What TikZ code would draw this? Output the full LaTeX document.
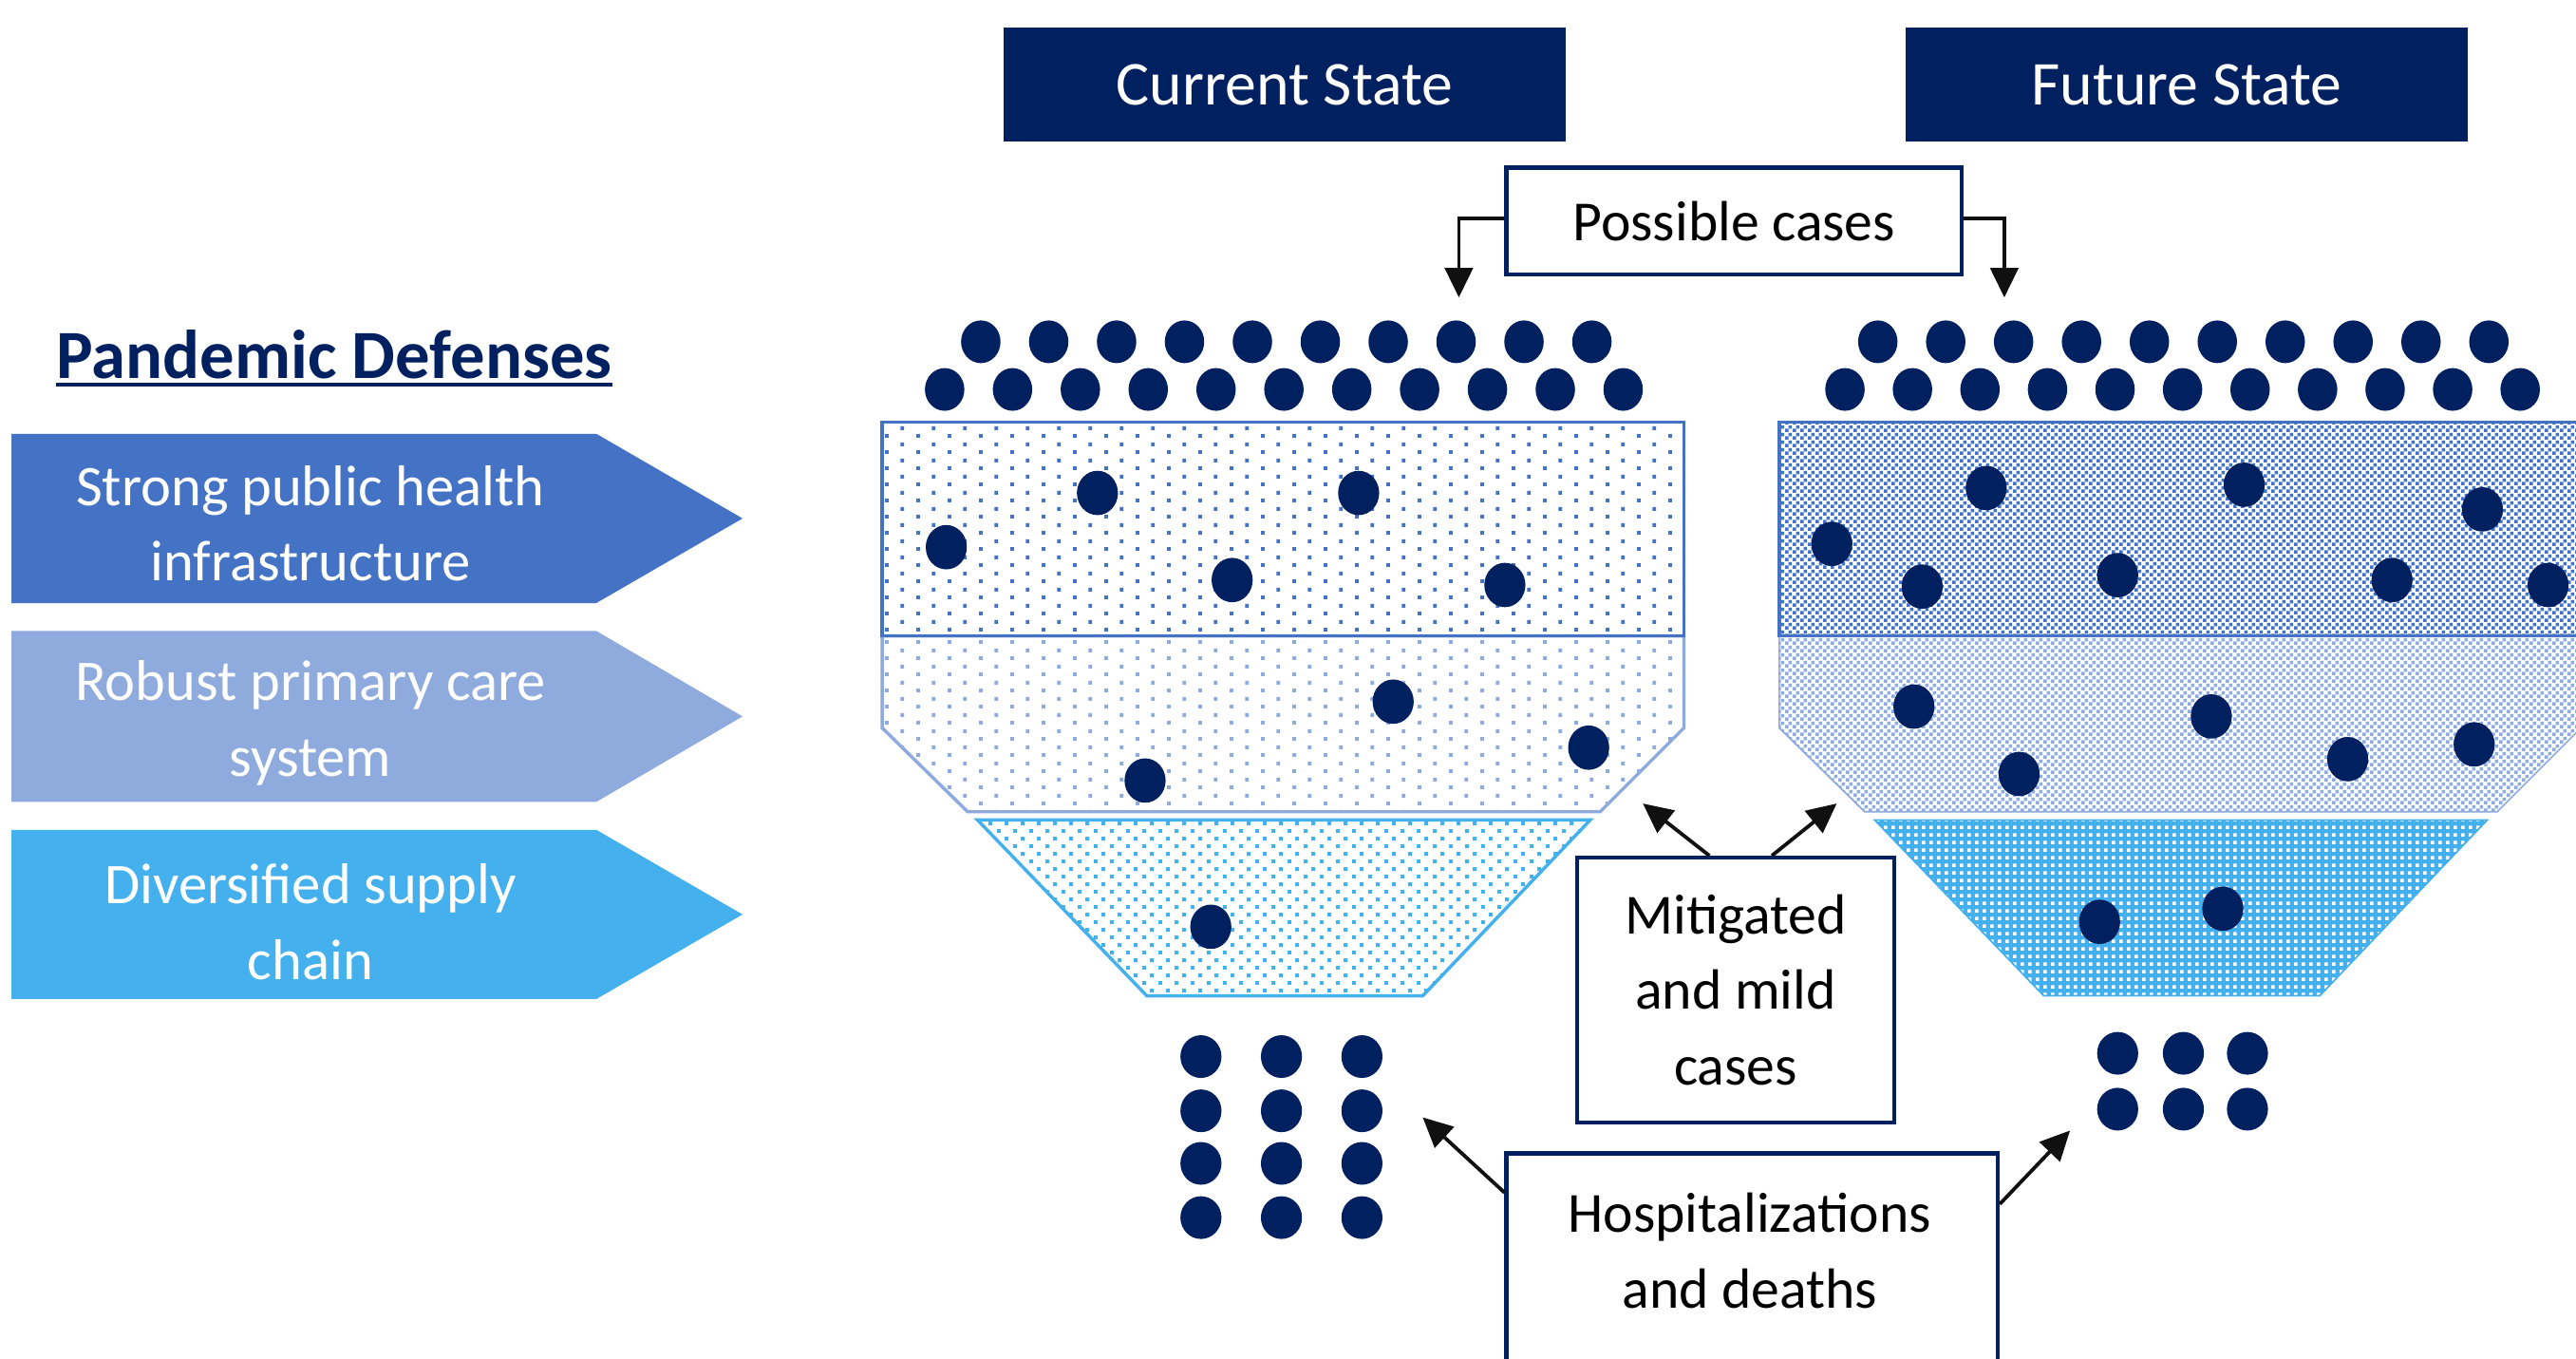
\documentclass[tikz,border=0pt]{standalone}
\usepackage{fontspec}
\setmainfont{Carlito}
\usetikzlibrary{arrows.meta,patterns.meta}
\definecolor{navy}{HTML}{002060}
\definecolor{bluA}{HTML}{4472C4}
\definecolor{bluB}{HTML}{8FAADC}
\definecolor{bluC}{HTML}{44B0EE}
\definecolor{arrowgray}{HTML}{101010}

\tikzdeclarepattern{name=sdots,type=uncolored,bottom left={(0pt,0pt)},top right={(19.26pt,9.63pt)},tile size={(19.26pt,9.63pt)},
  code={\fill (0pt,0pt) rectangle (2.3pt,2.3pt); \fill (9.63pt,4.82pt) rectangle (11.93pt,7.12pt);}}
\tikzdeclarepattern{name=ddots,type=uncolored,bottom left={(0pt,0pt)},top right={(9.63pt,9.5pt)},tile size={(9.63pt,9.5pt)},
  code={\fill (0pt,0pt) rectangle (2.3pt,2.3pt); \fill (4.82pt,4.75pt) rectangle (7.12pt,7.05pt);}}
\tikzdeclarepattern{name=checker,type=uncolored,bottom left={(0pt,0pt)},top right={(4.624pt,4.624pt)},tile size={(4.624pt,4.624pt)},
  code={\fill (0pt,0pt) rectangle (2.312pt,2.312pt); \fill (2.312pt,2.312pt) rectangle (4.624pt,4.624pt);}}
\tikzdeclarepattern{name=holes,type=uncolored,bottom left={(0pt,0pt)},top right={(4.8pt,4.8pt)},tile size={(4.8pt,4.8pt)},
  code={\fill (0pt,0pt) rectangle (2.31pt,2.31pt);}}

\tikzset{
  navybox/.style={draw=navy, line width=2.5pt, fill=white, inner sep=0pt},
  titlebox/.style={fill=navy, text=white, minimum width=342pt, minimum height=69pt, inner sep=0pt, font=\fontsize{38}{44}\selectfont},
  bodytext/.style={font=\fontsize{34.5}{46}\selectfont, align=center, inner sep=0pt},
  armtext/.style={font=\fontsize{35}{46}\selectfont, align=center, inner sep=0pt, text=white},
  casedot/.style={fill=navy},
  pointer/.style={draw=arrowgray, line width=2.2pt, -{Triangle[length=18pt,width=17pt]}},
  edgeA/.style={draw=bluA, line width=2pt},
  edgeB/.style={draw=bluB, line width=2pt},
  edgeC/.style={draw=bluC, line width=2pt},
}

\begin{document}
\begin{tikzpicture}[x=1pt,y=-1pt]
\useasboundingbox (0,0) rectangle (1568,827);
\fill[white] (0,0) rectangle (1568,827);

% ---------------- left panel ----------------
\node[inner sep=0pt, text=navy, font=\fontsize{42}{48}\selectfont\bfseries] (pd) at (203.5,216) {Pandemic Defenses};
\draw[navy, line width=2pt] (34,234) -- (373,234);

\fill[bluA] (7,264) -- (363,264) -- (452,315.5) -- (363,367) -- (7,367) -- cycle;
\node[armtext] (d1) at (189,318.5) {Strong public health\\infrastructure};
\fill[bluB] (7,384) -- (363,384) -- (452,436) -- (363,488) -- (7,488) -- cycle;
\node[armtext] (d2) at (189,440) {Robust primary care\\system};
\fill[bluC] (7,505) -- (363,505) -- (452,556.5) -- (363,608) -- (7,608) -- cycle;
\node[armtext] (d3) at (189,561) {Diversified supply\\chain};

% ---------------- titles ----------------
\node[titlebox] (cs) at (782,51.5) {Current State};
\node[titlebox] (fs) at (1331,51.5) {Future State};

% ---------------- current funnel ----------------
\path[pattern=sdots, pattern color=bluB] (537,387) -- (1025,387) -- (1025,443) -- (974,494) -- (589,494) -- (537,443) -- cycle;
\draw[edgeB] (537,387) -- (1025,387) -- (1025,443) -- (974,494) -- (589,494) -- (537,443) -- cycle;
\path[pattern=sdots, pattern color=bluA] (537,257) rectangle (1025,387);
\draw[edgeA] (537,257) rectangle (1025,387);
\path[pattern=ddots, pattern color=bluC] (595,499) -- (968,499) -- (866,606) -- (698,606) -- cycle;
\draw[edgeC] (595,499) -- (968,499) -- (866,606) -- (698,606) -- cycle;

% ---------------- future funnel ----------------
\path[pattern=checker, pattern color=bluB] (1083,387) -- (1571,387) -- (1571,443) -- (1520,494) -- (1135,494) -- (1083,443) -- cycle;
\draw[bluB, line width=1pt] (1083,387) -- (1571,387) -- (1571,443) -- (1520,494) -- (1135,494) -- (1083,443) -- cycle;
\path[pattern=checker, pattern color=bluA] (1083,257) rectangle (1571,387);
\draw[edgeA] (1083,257) rectangle (1571,387);
\fill[bluC] (1141,499) -- (1514,499) -- (1412,606) -- (1244,606) -- cycle;
\path[pattern=holes, pattern color=white] (1141,499) -- (1514,499) -- (1412,606) -- (1244,606) -- cycle;
\draw[bluC, line width=1pt] (1141,499) -- (1514,499) -- (1412,606) -- (1244,606) -- cycle;

% ---------------- case dots ----------------
\foreach \i in {0,...,9} {
  \fill[casedot] ({597+41.33*\i},208) ellipse [x radius=12, y radius=13];
  \fill[casedot] ({1143+41.33*\i},208) ellipse [x radius=12, y radius=13];
}
\foreach \i in {0,...,10} {
  \fill[casedot] ({575+41.3*\i},237) ellipse [x radius=12, y radius=13];
  \fill[casedot] ({1123+41.1*\i},237) ellipse [x radius=12, y radius=13];
}
% inside current
\foreach \p in {(576,333),(668,300),(827,300),(750,353),(916,356),(848,427),(967,455),(697,475),(737,564)}
  \fill[casedot] \p ellipse [x radius=12.5, y radius=13.5];
% inside future
\foreach \p in {(1115,331),(1209,297),(1366,295),(1511,310),(1170,357),(1289,350),(1456,353),(1551,356),
                (1165,430),(1346,436),(1506,453),(1229,471),(1429,462),(1278,561),(1353,553)}
  \fill[casedot] \p ellipse [x radius=12.5, y radius=13.5];
% outcomes
\foreach \x in {731,780,829} \foreach \y in {643,676,708,741}
  \fill[casedot] (\x,\y) ellipse [x radius=12.5, y radius=13];
\foreach \x in {1289,1329,1368} \foreach \y in {641,675}
  \fill[casedot] (\x,\y) ellipse [x radius=12.5, y radius=13];

% ---------------- label boxes ----------------
\node[navybox, bodytext, minimum width=277pt, minimum height=65pt] (pc) at (1055.5,134.5) {Possible cases};
\node[navybox, bodytext, minimum width=193pt, minimum height=161pt] (mit) at (1056.5,602.5) {Mitigated\\and mild\\cases};
\node[navybox, minimum width=299pt, minimum height=160pt] (hosp) at (1066.5,782) {};
\node[bodytext] (hosptext) at (1065,761) {Hospitalizations\\and deaths};

% ---------------- connectors ----------------
\coordinate (pcL) at (888,181);
\coordinate (pcR) at (1220,181);
\coordinate (mitL) at (1000,489);
\coordinate (mitR) at (1118,489);
\coordinate (hospL) at (866,680);
\coordinate (hospR) at (1260,688);
\draw[pointer] ([yshift=1.5pt]pc.west) -| (pcL);
\draw[pointer] ([yshift=1.5pt]pc.east) -| (pcR);
\draw[pointer] ([xshift=-16pt]mit.north) -- (mitL);
\draw[pointer] ([xshift=22pt]mit.north) -- (mitR);
\draw[pointer] ([yshift=-25pt]hosp.north west) -- (hospL);
\draw[pointer] ([yshift=-32pt]hosp.north east) -- (hospR);
\end{tikzpicture}
\end{document}
